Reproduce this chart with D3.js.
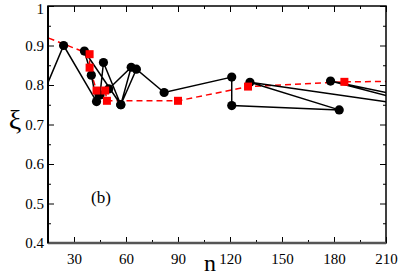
<!DOCTYPE html>
<html><head><meta charset="utf-8">
<script src="https://cdn.jsdelivr.net/npm/d3@7"></script>
<style>body{margin:0;background:#fff}svg{display:block}
text{font-family:"Liberation Serif","Times New Roman",Tinos,"DejaVu Serif",serif}</style>
</head><body>
<svg id="c" width="399" height="276"></svg>
<script>
// data (points beyond the axis range are clipped, as in the reference)
const blackN  = [12, 24, 43, 40, 36, 57, 47, 45, 50, 63, 57, 66, 82, 121, 121, 183, 131.5, 240, 178, 240];
const blackXi = [0.775, 0.90, 0.758, 0.825, 0.886, 0.75, 0.857, 0.775, 0.79, 0.845, 0.75, 0.84, 0.781, 0.82, 0.748, 0.737, 0.807, 0.739, 0.81, 0.754];
const redN  = [10, 39, 39, 43, 48, 49, 90, 130.4, 186, 230];
const redXi = [0.928, 0.878, 0.844, 0.786, 0.786, 0.76, 0.76, 0.796, 0.808, 0.81];
const xTicks = [30, 60, 90, 120, 150, 180, 210];
const yTicks = [0.4, 0.5, 0.6, 0.7, 0.8, 0.9, 1];
const panelLabel = "(b)";

const svg = d3.select("#c");
const L = 48, R = 386, T = 6, B = 243;
const x = d3.scaleLinear().domain([15, 210]).range([L, R]);
const y = d3.scaleLinear().domain([0.4, 1]).range([B, T]);

svg.append("clipPath").attr("id", "clip").append("rect")
  .attr("x", L).attr("y", T).attr("width", R - L).attr("height", B - T);

const black = blackN.map((n, i) => [n, blackXi[i]]);
const red = redN.map((n, i) => [n, redXi[i]]);
const line = d3.line().x(d => x(d[0])).y(d => y(d[1]));

const g = svg.append("g").attr("clip-path", "url(#clip)");
g.append("path").attr("d", line(red)).attr("fill", "none")
  .attr("stroke", "#ff0000").attr("stroke-width", 1.5).attr("stroke-dasharray", "6,4");
g.append("path").attr("d", line(black)).attr("fill", "none")
  .attr("stroke", "#000").attr("stroke-width", 1.5);
g.selectAll("circle").data(black).join("circle")
  .attr("cx", d => x(d[0])).attr("cy", d => y(d[1])).attr("r", 4.6).attr("fill", "#000");
g.selectAll("rect.sq").data(red).join("rect").attr("class", "sq")
  .attr("x", d => x(d[0]) - 4).attr("y", d => y(d[1]) - 4)
  .attr("width", 8).attr("height", 8).attr("fill", "#ff0000");

// axes with inward ticks on all four sides
const axB = d3.axisBottom(x).tickValues(xTicks).tickSize(-6).tickPadding(10).tickFormat(d3.format("d"));
const axL = d3.axisLeft(y).tickValues(yTicks).tickSize(-6).tickPadding(4).tickFormat(d => d === 1 ? "1" : d3.format(".1f")(d));
const xMinor = d3.range(45, 210, 30);
const yMinor = d3.range(0.45, 1, 0.1);

function styleAxis(sel) {
  sel.select(".domain").remove();
  sel.selectAll(".tick line").attr("stroke", "#000").attr("stroke-width", 1);
  sel.selectAll("text").attr("font-size", 15).attr("fill", "#000");
}
svg.append("g").attr("transform", `translate(0,${B})`).call(axB).call(styleAxis);
const gl = svg.append("g").attr("transform", `translate(${L},0)`).call(axL).call(styleAxis);
gl.selectAll(".tick text").filter(d => d === 1).attr("dy", "0.5em");
svg.append("g").attr("transform", `translate(0,${T})`)
  .call(d3.axisTop(x).tickValues(xTicks).tickSize(-6).tickFormat("")).call(styleAxis);
svg.append("g").attr("transform", `translate(${R},0)`)
  .call(d3.axisRight(y).tickValues(yTicks).tickSize(-6).tickFormat("")).call(styleAxis);
// minor ticks
svg.append("g").attr("transform", `translate(0,${B})`)
  .call(d3.axisBottom(x).tickValues(xMinor).tickSize(-3).tickFormat("")).call(styleAxis);
svg.append("g").attr("transform", `translate(0,${T})`)
  .call(d3.axisTop(x).tickValues(xMinor).tickSize(-3).tickFormat("")).call(styleAxis);
svg.append("g").attr("transform", `translate(${L},0)`)
  .call(d3.axisLeft(y).tickValues(yMinor).tickSize(-3).tickFormat("")).call(styleAxis);
svg.append("g").attr("transform", `translate(${R},0)`)
  .call(d3.axisRight(y).tickValues(yMinor).tickSize(-3).tickFormat("")).call(styleAxis);
svg.selectAll("g").attr("font-family", null);

// frame
svg.append("rect").attr("x", L).attr("y", T).attr("width", R - L).attr("height", B - T)
  .attr("fill", "none").attr("stroke", "#000").attr("stroke-width", 1.5);
svg.append("line").attr("x1", L).attr("x2", R).attr("y1", B).attr("y2", B)
  .attr("stroke", "#555").attr("stroke-width", 2.5);
svg.append("line").attr("x1", L).attr("x2", L).attr("y1", T).attr("y2", B)
  .attr("stroke", "#000").attr("stroke-width", 2);

svg.append("text").attr("x", 15).attr("y", 129).attr("text-anchor", "middle")
  .attr("font-size", 28).text("ξ");
svg.append("text").attr("x", 210).attr("y", 271).attr("text-anchor", "middle")
  .attr("font-size", 24).text("n");
svg.append("text").attr("x", 101).attr("y", 203).attr("text-anchor", "middle")
  .attr("font-size", 17).text(panelLabel);
</script>
</body></html>
